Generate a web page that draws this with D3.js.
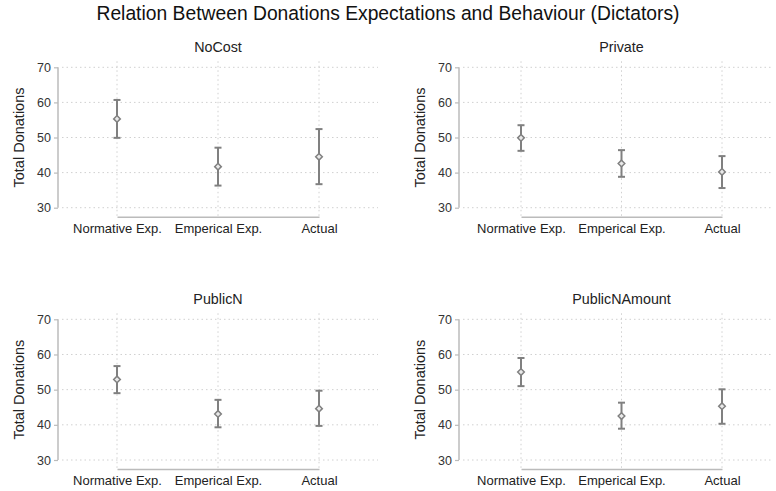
<!DOCTYPE html>
<html lang="en">
<head>
<meta charset="UTF-8">
<title>Donations Expectations</title>
<script src="https://cdn.jsdelivr.net/npm/d3@7"></script>
<style>
  body { margin: 0; background: #fff; }
  svg { font-family: "Liberation Sans", Arial, sans-serif; }
  .grid line { stroke: #d0d0d0; stroke-dasharray: 1.5 3; }
</style>
</head>
<body>
<svg id="canvas" width="776" height="491"></svg>
<script>
// categories on the x axis
const categories = ["Normative Exp.", "Emperical Exp.", "Actual"];
const panels = ["NoCost", "Private", "PublicN", "PublicNAmount"];
// means and confidence bounds per panel, in category order
const means = [
  [55.3, 41.7, 44.5],
  [49.9, 42.6, 40.2],
  [52.9, 43.1, 44.6],
  [55.0, 42.5, 45.3]
];
const lower = [
  [49.9, 36.3, 36.7],
  [46.2, 38.8, 35.6],
  [49.0, 39.3, 39.7],
  [51.0, 38.9, 40.3]
];
const upper = [
  [60.7, 47.1, 52.4],
  [53.5, 46.4, 44.7],
  [56.7, 47.1, 49.7],
  [59.0, 46.3, 50.1]
];
const yTicks = [30, 40, 50, 60, 70];

let svg = d3.select("#canvas");
const ink = "#808080";

svg.append("text")
  .attr("x", 388).attr("y", 20)
  .attr("text-anchor", "middle")
  .attr("font-size", 19.3)
  .attr("fill", "#111")
  .text("Relation Between Donations Expectations and Behaviour (Dictators)");

// panel frames: left axis x, category range, right grid end; rows: y=70 and y=30 positions
const cols = [{ax: 58, x0: 117, x1: 319, gx: 378}, {ax: 459, x0: 521, x1: 722, gx: 772}];
const rows = [{top: 67.3, bot: 207.7}, {top: 319.3, bot: 460}];

panels.forEach((name, p) => {
  const c = cols[p % 2], r = rows[Math.floor(p / 2)];
  const x = d3.scalePoint().domain(categories).range([c.x0, c.x1]);
  const y = d3.scaleLinear().domain([30, 70]).range([r.bot, r.top]);
  const g = svg.append("g");

  // grid
  const grid = g.append("g").attr("class", "grid");
  grid.selectAll(".h").data(yTicks).enter().append("line")
    .attr("x1", c.ax + 4).attr("x2", c.gx)
    .attr("y1", d => y(d)).attr("y2", d => y(d));
  grid.selectAll(".v").data(categories).enter().append("line")
    .attr("x1", d => x(d)).attr("x2", d => x(d))
    .attr("y1", r.top - 6).attr("y2", r.bot + 9);

  // y axis
  const yAxis = g.append("g")
    .attr("transform", `translate(${c.ax},0)`)
    .call(d3.axisLeft(y).tickValues(yTicks).tickSize(4).tickPadding(3));
  yAxis.select(".domain").attr("d", `M0,${y(70)}V${y(30)}`).attr("stroke", "#bbb").attr("stroke-width", 1.5);
  yAxis.selectAll(".tick line").attr("stroke", "#bbb").attr("stroke-width", 1.2);
  yAxis.selectAll(".tick text").attr("font-size", 12.5).attr("fill", "#333").attr("font-family", null);

  // x axis
  const xAxis = g.append("g")
    .attr("transform", `translate(0,${r.bot + 9})`)
    .call(d3.axisBottom(x).tickSize(0).tickPadding(7));
  xAxis.select(".domain").attr("stroke", "#bbb").attr("stroke-width", 1.5);
  xAxis.selectAll(".tick text").attr("font-size", 13).attr("fill", "#222").attr("font-family", null);

  // titles
  g.append("text")
    .attr("x", (c.x0 + c.x1) / 2).attr("y", r.top - 15)
    .attr("text-anchor", "middle").attr("font-size", 14.3).attr("fill", "#222")
    .text(name);
  g.append("text")
    .attr("transform", `translate(${c.ax - 34},${(r.top + r.bot) / 2}) rotate(-90)`)
    .attr("text-anchor", "middle").attr("font-size", 14.5).attr("fill", "#222")
    .text("Total Donations");

  // error bars
  const rowsData = categories.map((k, i) => ({k, m: means[p][i], lo: lower[p][i], hi: upper[p][i]}));
  const eb = g.selectAll(".eb").data(rowsData).enter().append("g");
  eb.append("line")
    .attr("x1", d => x(d.k)).attr("x2", d => x(d.k))
    .attr("y1", d => y(d.lo)).attr("y2", d => y(d.hi))
    .attr("stroke", ink).attr("stroke-width", 2);
  eb.selectAll(".cap").data(d => [d.lo, d.hi].map(v => ({k: d.k, v}))).enter().append("line")
    .attr("x1", d => x(d.k) - 3.5).attr("x2", d => x(d.k) + 3.5)
    .attr("y1", d => y(d.v)).attr("y2", d => y(d.v))
    .attr("stroke", ink).attr("stroke-width", 2);
  eb.append("path")
    .attr("transform", d => `translate(${x(d.k)},${y(d.m)})`)
    .attr("d", d3.symbol(d3.symbolDiamond2, 28))
    .attr("fill", "#eaeaea").attr("stroke", ink).attr("stroke-width", 1.5);
});
</script>
</body>
</html>
